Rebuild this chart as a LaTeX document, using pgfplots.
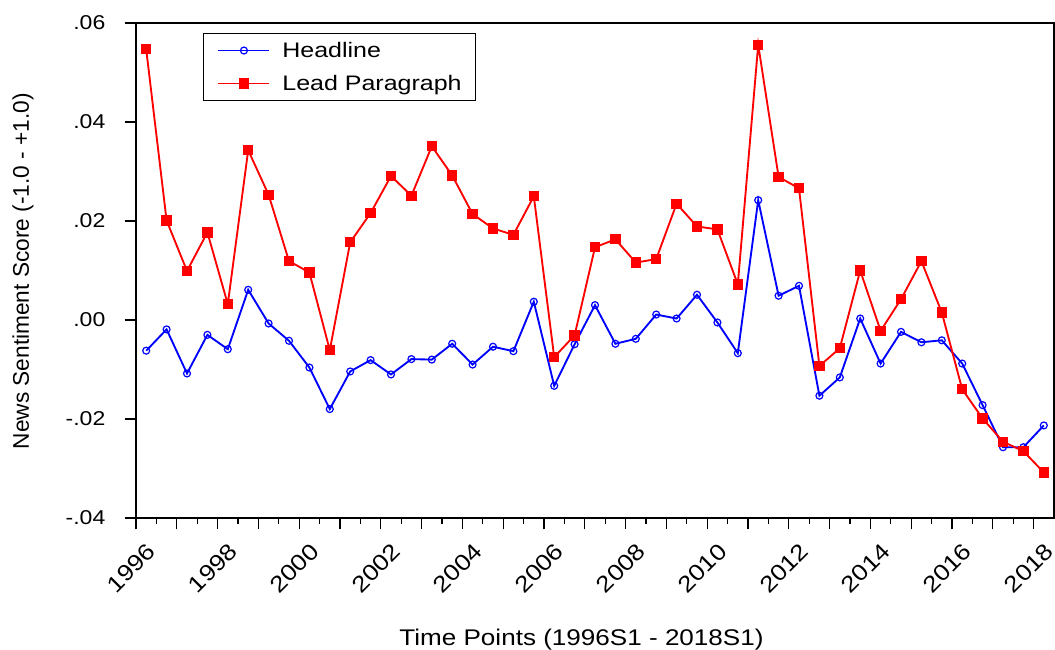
\documentclass[border=0pt]{standalone}
\usepackage{fontspec}
\setmainfont{Liberation Sans}
\newfontfamily\wide[FakeStretch=1.15]{Liberation Sans}
\newfontfamily\wider[FakeStretch=1.19]{Liberation Sans}
\usepackage{pgfplots}
\usepackage{pgfplotstable}
\pgfplotsset{compat=1.18}
\definecolor{hblue}{RGB}{0,0,255}
\definecolor{lred}{RGB}{255,0,0}

\pgfplotstableread{
x h l
1996.25 -0.0062 0.0547
1996.75 -0.0019 0.0201
1997.25 -0.0108 0.0099
1997.75 -0.0030 0.0177
1998.25 -0.0059 0.0032
1998.75 0.0061 0.0343
1999.25 -0.0007 0.0253
1999.75 -0.0042 0.0119
2000.25 -0.0096 0.0096
2000.75 -0.0180 -0.0061
2001.25 -0.0104 0.0157
2001.75 -0.0081 0.0216
2002.25 -0.0110 0.0291
2002.75 -0.0079 0.0251
2003.25 -0.0080 0.0351
2003.75 -0.0048 0.0292
2004.25 -0.0090 0.0214
2004.75 -0.0054 0.0185
2005.25 -0.0063 0.0172
2005.75 0.0037 0.0250
2006.25 -0.0133 -0.0075
2006.75 -0.0049 -0.0031
2007.25 0.0030 0.0147
2007.75 -0.0048 0.0163
2008.25 -0.0038 0.0116
2008.75 0.0011 0.0123
2009.25 0.0003 0.0235
2009.75 0.0051 0.0189
2010.25 -0.0005 0.0183
2010.75 -0.0067 0.0072
2011.25 0.0242 0.0556
2011.75 0.0049 0.0289
2012.25 0.0069 0.0266
2012.75 -0.0153 -0.0093
2013.25 -0.0116 -0.0057
2013.75 0.0003 0.0100
2014.25 -0.0088 -0.0022
2014.75 -0.0024 0.0042
2015.25 -0.0045 0.0119
2015.75 -0.0041 0.0015
2016.25 -0.0088 -0.0140
2016.75 -0.0172 -0.0199
2017.25 -0.0257 -0.0246
2017.75 -0.0257 -0.0265
2018.25 -0.0213 -0.0308
}\datatable

\begin{document}
\begin{tikzpicture}
\begin{axis}[
  scale only axis,
  width=688.5pt, height=371.25pt,
  xmin=1996, xmax=2018.5,
  ymin=-0.04, ymax=0.06,
  scaled x ticks=false, scaled y ticks=false,
  axis line style={line width=1pt, black},
  tick align=outside,
  xtick pos=bottom, ytick pos=left,
  major tick length=8.6pt, minor tick length=4.5pt,
  tick style={line width=1pt, black},
  xtick={1996,1998,...,2018},
  xticklabels={1996,1998,2000,2002,2004,2006,2008,2010,2012,2014,2016,2018},
  minor x tick num=3,
  extra x ticks={1997,1999,...,2017},
  extra x tick labels={},
  extra x tick style={tick style={line width=1pt, black}},
  ytick={-0.04,-0.02,0,0.02,0.04,0.06},
  yticklabels={-.04,-.02,.00,.02,.04,.06},
  xticklabel style={font=\wide\fontsize{17pt}{20pt}\selectfont, inner sep=0pt, anchor=center, xshift=-3.6pt, yshift=-29pt, rotate=45},
  yticklabel style={font=\wide\fontsize{15pt}{18pt}\selectfont, inner sep=0pt, anchor=east, xshift=-14.25pt},
  xlabel={Time Points (1996S1 - 2018S1)},
  ylabel={News Sentiment Score (-1.0 - +1.0)},
  xlabel style={font=\wide\fontsize{17pt}{20pt}\selectfont, at={(axis description cs:0.4853,-0.2566)}, anchor=base, inner sep=0pt},
  ylabel style={font=\fontsize{17pt}{20pt}\selectfont, at={(axis description cs:-0.11656,0.4985)}, anchor=base, inner sep=0pt},
  legend cell align=left,
  legend image code/.code={\draw[mark repeat=2,mark phase=2,#1] plot coordinates {(0pt,0pt) (19.1pt,0pt) (38.25pt,0pt)};},
  legend style={at={(axis description cs:0.073,0.9798)}, anchor=north west,
    draw=black, line width=0.8pt,
    font=\wider\fontsize{15.75pt}{18pt}\selectfont,
    inner xsep=10.5pt, inner ysep=4.75pt,
    nodes={inner sep=0pt, text height=13.5pt, text depth=2.5pt},
    row sep=8.75pt,
    /tikz/every odd column/.append style={column sep=9pt}},
]
\addplot[hblue, line width=1.4pt, mark=o, mark size=2.6pt, mark options={fill=white, line width=0.9pt}] table[x=x, y=h] {\datatable};
\addlegendentry{Headline}
\addplot[lred, line width=1.4pt, mark=square*, mark size=3.5pt, mark options={line width=0pt}] table[x=x, y=l] {\datatable};
\addlegendentry{Lead Paragraph}
\end{axis}
\pgfresetboundingbox
\path[use as bounding box] ([shift={(-102pt,-98.25pt)}]current axis.south west) rectangle ([shift={(0.75pt,17.25pt)}]current axis.north east);
\end{tikzpicture}
\end{document}
